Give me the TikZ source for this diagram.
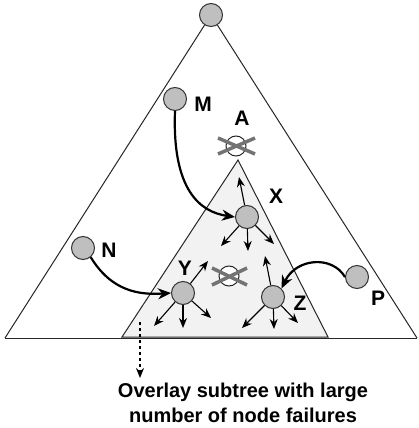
\documentclass[tikz,border=0pt]{standalone}
\usepackage{fontspec}
\setmainfont{Liberation Sans}
\usetikzlibrary{arrows.meta}
\begin{document}
\begin{tikzpicture}[x=1pt,y=-1pt,
  peer/.style={circle,draw=black!80,line width=1pt,fill=black!25,minimum size=23pt,inner sep=0pt},
  dead/.style={circle,draw=black!85,line width=1pt,fill=white,minimum size=20pt,inner sep=0pt},
  lbl/.style={font=\bfseries\fontsize{21}{21}\selectfont,inner sep=0pt},
  edge/.style={line width=1pt,black!85},
  sarrow/.style={line width=1.1pt,-{Stealth[length=10pt,width=8pt]}},
  carrow/.style={line width=2.2pt,-{Stealth[length=13pt,width=11pt]}},
  crossline/.style={line width=3.5pt,black!55}]
\useasboundingbox (0,0) rectangle (419,428);
% outer triangle
\node[peer] (top) at (211,15) {};
\coordinate (bl) at (5,338);
\coordinate (br) at (417,338);
\draw[edge] (top) -- (bl);
\draw[edge] (top) -- (br);
\draw[edge] (bl) -- (br);
% inner triangle
\coordinate (ia) at (238,160);
\coordinate (il) at (122,337);
\coordinate (ir) at (328,337);
\fill[black!5] (ia) -- (il) -- (ir) -- cycle;
\draw[edge] (ia) -- (il) -- (ir) -- cycle;
% nodes
\node[peer] (M) at (175,99) {};
\node[peer] (N) at (83,248) {};
\node[peer] (P) at (357,277) {};
\node[peer] (X) at (247,217) {};
\node[peer] (Y) at (183,293) {};
\node[peer] (Z) at (273,297) {};
\node[dead] (A) at (236,146) {};
\draw[crossline] (218,138) -- (255,154);
\draw[crossline] (218,154) -- (255,138);
\node[dead] (C) at (229,276) {};
\draw[crossline] (212,268) -- (247,285);
\draw[crossline] (212,285) -- (247,268);
% labels
\node[lbl] (lM) at (203,104) {M};
\node[lbl] (lA) at (242,118) {A};
\node[lbl] (lX) at (276,196) {X};
\node[lbl] (lY) at (185,268) {Y};
\node[lbl] (lZ) at (300,303) {Z};
\node[lbl] (lN) at (109,250) {N};
\node[lbl] (lP) at (378,298) {P};
% arrow ends
\coordinate (x1) at (239,177);
\coordinate (x2) at (221,246);
\coordinate (x3) at (248,251);
\coordinate (x4) at (274,244);
\coordinate (y1) at (208,261);
\coordinate (y2) at (154,326);
\coordinate (y3) at (183,328);
\coordinate (y4) at (211,318);
\coordinate (z1) at (265,256);
\coordinate (z2) at (242,328);
\coordinate (z3) at (274,329);
\coordinate (z4) at (298,323);
\draw[sarrow] (X) -- (x1);
\draw[sarrow] (X) -- (x2);
\draw[sarrow] (X) -- (x3);
\draw[sarrow] (X) -- (x4);
\draw[sarrow] (Y) -- (y1);
\draw[sarrow] (Y) -- (y2);
\draw[sarrow] (Y) -- (y3);
\draw[sarrow] (Y) -- (y4);
\draw[sarrow] (Z) -- (z1);
\draw[sarrow] (Z) -- (z2);
\draw[sarrow] (Z) -- (z3);
\draw[sarrow] (Z) -- (z4);
% curved arrows
\draw[carrow] (M.south) .. controls (172,190) and (200,212) .. (X.west);
\draw[carrow] (N.-50) .. controls (112,292) and (140,295) .. (Y.west);
\draw[carrow] (P.west) .. controls (332,255) and (296,258) .. (Z.45);
% dashed arrow and caption
\coordinate (ds) at (140,322);
\node[font=\bfseries\fontsize{20}{25}\selectfont,align=center,inner sep=0pt] (cap) at (243,403) {Overlay subtree with large\\number of node failures};
\draw[line width=1.1pt,dashed,-{Stealth[length=10pt,width=8pt]}] (ds) -- (140,378);
\end{tikzpicture}
\end{document}
